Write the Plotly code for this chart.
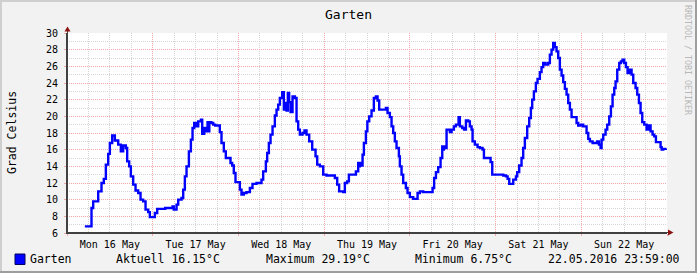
import pandas as pd
import plotly.graph_objects as go

# ---- data (hours after 2016-05-16 00:00, temperature in °C) ----
hours = [5.0, 6.86, 7.33, 8.73, 9.66, 10.3, 10.88, 11.53, 12.0, 12.65, 13.4, 14.33, 15.08, 15.73, 16.48,
         16.85, 17.41, 17.88, 18.53, 19.19, 19.93, 20.59, 21.34, 21.99, 22.74, 23.2, 24.6, 25.26, 27.5,
         29.55, 29.9, 30.67, 31.14, 32.07, 32.54, 33.0, 33.47, 34.13, 34.69, 35.15, 35.62, 36.27, 36.74,
         37.49, 37.86, 38.42, 39.07, 39.35, 39.6, 39.85, 40.4, 40.94, 41.5,
         42.79, 43.26, 43.91, 44.47, 45.78, 46.25, 46.7, 47.18, 48.4, 48.86, 49.5, 50.26, 51.2, 51.94,
         53.06, 54.46, 54.93, 55.68, 56.05, 56.52, 56.99, 57.55, 58.2, 58.67, 59.13, 59.6, 60.25, 60.72,
         61.0, 61.47, 61.84, 62.2, 62.59, 63.15, 63.8, 64.27, 64.73, 65.2, 65.95, 66.5, 67.07, 67.82,
         68.66, 69.59, 70.06, 70.8, 71.74, 72.67, 75.0, 75.66, 76.2, 77.34, 77.8, 78.46, 78.93, 80.89,
         81.54, 81.8, 82.0, 82.2, 82.76, 83.13, 83.69, 84.1, 84.62, 85.27, 85.92, 86.5, 86.95, 87.42,
         89.3, 89.75, 90.4, 90.87, 91.34, 91.8, 92.27, 92.93, 93.2, 93.67, 94.14, 94.89, 95.35, 96.0,
         96.94, 98.16, 98.81, 99.74, 102.36, 102.8, 103.3, 103.94, 104.6, 105.07, 105.3, 105.5, 105.8,
         106.28, 107.2, 107.68, 108.33, 108.89, 109.64, 110.0, 110.67, 111.2, 111.7, 112.35, 112.8,
         113.28, 113.56, 114.2, 114.96, 115.6, 116.36, 116.74, 118.6, 119.07, 122.15, 122.9, 123.37,
         123.83, 124.95, 125.7, 126.07, 126.62, 127.27, 127.74, 128.2, 128.86, 129.42, 129.89, 130.26,
         130.73, 131.28, 131.75, 132.4, 132.87, 133.34, 134.0, 134.74, 135.2, 135.67, 136.14, 136.6,
         137.07, 137.54, 138.0, 138.48, 138.94, 139.41, 139.88, 140.34, 140.81, 141.28, 142.68, 143.14,
         143.89, 144.54, 145.48, 145.95, 146.41, 147.16, 148.47, 148.93, 149.4, 149.68, 150.15, 150.8,
         151.27, 151.83, 152.3, 152.76, 153.23, 153.6, 154.07, 154.63, 155.1, 155.56, 156.03, 156.5,
         156.96, 157.3, 157.6, 157.9, 158.08, 158.55, 159.2, 159.67, 160.14, 160.6, 161.07, 161.63,
         162.28, 162.5, 162.75, 163.0, 163.4, 163.96, 164.43, 164.9, 166.2, 166.5, 166.95, 167.8]
temps = [6.8, 9.0, 9.8, 11.0, 12.0, 12.5, 14.2, 15.5, 16.8, 17.7, 17.1, 16.6, 15.8, 16.5, 16.2,
         14.6, 14.0, 12.8, 11.8, 11.1, 10.8, 10.0, 9.8, 8.8, 8.5, 7.9, 8.4, 8.9, 9.0,
         9.2, 8.8, 9.4, 10.0, 10.2, 11.2, 12.8, 14.0, 15.8, 17.2, 18.6, 19.2, 18.8, 19.4,
         19.6, 17.9, 18.6, 18.2, 19.3, 18.2, 19.3, 19.2, 19.0, 18.9,
         18.1, 16.8, 15.8, 15.0, 14.4, 14.1, 13.2, 12.1, 11.2, 10.6, 10.8, 10.9, 11.4, 11.9,
         12.0, 12.4, 13.4, 14.6, 15.6, 16.8, 17.8, 18.8, 20.1, 20.8, 21.4, 22.2, 22.9, 20.8,
         21.6, 20.7, 22.8, 21.7, 20.5, 22.4, 22.2, 19.4, 18.4, 17.8, 18.0, 18.3, 17.8, 17.0,
         16.0, 15.2, 14.2, 14.0, 13.0, 12.9, 12.6, 11.8, 11.0, 10.9, 12.0, 12.2, 13.0, 13.4,
         14.4, 14.0, 14.4, 14.1, 15.4, 16.8, 18.2, 19.4, 20.0, 20.7, 22.2, 22.4, 21.9, 20.8,
         21.0, 20.4, 19.9, 18.8, 18.0, 17.0, 16.2, 15.2, 14.0, 13.0, 12.0, 11.4, 10.8, 10.3,
         10.1, 10.8, 11.0, 10.9, 11.4, 12.6, 13.3, 13.9, 15.0, 16.4, 16.0, 16.4, 16.2,
         18.4, 18.1, 18.4, 18.8, 19.0, 19.9, 18.8, 18.6, 18.4, 19.5, 19.4, 18.8,
         18.4, 17.0, 16.6, 16.3, 16.2, 16.0, 15.0, 14.5, 13.0, 12.9, 12.8, 12.5,
         11.9, 12.4, 12.8, 13.3, 14.1, 15.0, 16.2, 17.4, 18.8, 19.8, 21.0, 22.0,
         23.0, 24.0, 24.5, 25.3, 25.9, 26.4, 26.2, 26.4, 27.4, 28.0, 28.8, 28.3,
         27.8, 27.0, 25.6, 24.9, 24.1, 23.3, 22.6, 21.6, 20.8, 19.9, 19.2, 18.9,
         19.0, 18.8, 18.0, 17.3, 17.0, 16.8, 17.0, 16.6, 16.2, 17.2, 17.8, 18.4,
         19.0, 20.0, 21.2, 22.6, 23.4, 24.2, 25.6, 26.4, 26.6, 26.8, 26.4, 25.9,
         25.2, 25.6, 25.2, 25.6, 25.0, 24.0, 23.4, 22.6, 21.6, 20.4, 19.3, 19.0,
         18.4, 18.9, 18.4, 18.9, 18.2, 17.8, 17.6, 16.9, 16.3, 16.0, 16.1, 16.15]

start = pd.Timestamp("2016-05-16 00:00")
end = pd.Timestamp("2016-05-23 00:00")
title = "Garten"
y_title = "Grad Celsius"
series_name = "Garten"
legend_items = ["Aktuell 16.15°C", "Maximum 29.19°C", "Minimum 6.75°C", "22.05.2016 23:59:00"]
watermark = "RRDTOOL / TOBI OETIKER"

times = [start + pd.Timedelta(hours=h) for h in hours]

W, H = 697, 273
L, R, T, B = 67, 667, 33, 233
MONO = "DejaVu Sans Mono"


def px(x):
    return (x - L) / (R - L)


def py(y):
    return (B - y) / (B - T)


fig = go.Figure()
fig.add_trace(go.Scatter(x=times, y=temps, mode="lines", line=dict(color="#0000FF", width=2.4, shape="hv"),
                         name=series_name, showlegend=False, hoverinfo="skip"))

MGRID = "#F0A8A8"
GRID = "#D6D6D6"
AXIS = "#404040"
ARROW = "#8B1010"

fig.update_layout(
    width=W, height=H,
    margin=dict(l=L, r=W - R, t=T, b=H - B),
    paper_bgcolor="#F2F2F2", plot_bgcolor="#FFFFFF",
    font=dict(family=MONO, color="#000000"),
    title=dict(text=title, x=0.5, xanchor="center", y=1 - 14 / H, yanchor="middle",
               font=dict(family=MONO, size=13, color="#000000")),
    showlegend=False,
)

fig.update_xaxes(
    type="date", range=[start, end], tick0=start, dtick=86400000,
    tickformat="%a %d %b", ticklabelmode="period",
    showgrid=True, gridcolor=MGRID, griddash="1px,1px", gridwidth=1,
    ticks="outside", ticklen=2, tickcolor=MGRID,
    showline=True, linecolor=AXIS, linewidth=1,
    tickfont=dict(family=MONO, size=10, color="#000000"),
    minor=dict(dtick=6 * 3600000, tick0=start, showgrid=True, gridcolor=GRID, griddash="1px,1px", gridwidth=1),
    zeroline=False, fixedrange=True,
)
fig.update_yaxes(
    range=[6, 30], tick0=6, dtick=2,
    showgrid=True, gridcolor=MGRID, griddash="1px,1px", gridwidth=1,
    ticks="outside", ticklen=2, tickcolor=MGRID,
    showline=True, linecolor=AXIS, linewidth=1,
    tickfont=dict(family=MONO, size=10, color="#000000"),
    ticklabelstandoff=4,
    minor=dict(dtick=1, tick0=6, showgrid=True, gridcolor=GRID, griddash="1px,1px", gridwidth=1),
    zeroline=False, fixedrange=True,
)

shapes = []
# frame shading
shapes.append(dict(type="rect", xref="paper", yref="paper", x0=px(0), x1=px(W), y0=py(0), y1=py(2),
                   fillcolor="#CFCFCF", line=dict(width=0), layer="above"))
shapes.append(dict(type="rect", xref="paper", yref="paper", x0=px(0), x1=px(2), y0=py(0), y1=py(H),
                   fillcolor="#CFCFCF", line=dict(width=0), layer="above"))
shapes.append(dict(type="rect", xref="paper", yref="paper", x0=px(0), x1=px(W), y0=py(H - 2), y1=py(H),
                   fillcolor="#9E9E9E", line=dict(width=0), layer="above"))
shapes.append(dict(type="rect", xref="paper", yref="paper", x0=px(W - 2), x1=px(W), y0=py(0), y1=py(H),
                   fillcolor="#9E9E9E", line=dict(width=0), layer="above"))
# axis extensions and arrows
shapes.append(dict(type="line", xref="paper", yref="paper", x0=px(L + 0.5), x1=px(L + 0.5), y0=py(B), y1=py(29),
                   line=dict(color=AXIS, width=1)))
shapes.append(dict(type="line", xref="paper", yref="paper", x0=px(L), x1=px(670), y0=py(B - 0.5), y1=py(B - 0.5),
                   line=dict(color=AXIS, width=1)))
shapes.append(dict(type="path", xref="paper", yref="paper",
                   path=f"M {px(L - 2.5)},{py(31.5)} L {px(L + 3.5)},{py(31.5)} L {px(L + 0.5)},{py(26.5)} Z",
                   fillcolor=ARROW, line=dict(width=0)))
shapes.append(dict(type="path", xref="paper", yref="paper",
                   path=f"M {px(668)},{py(B - 3.5)} L {px(668)},{py(B + 2.5)} L {px(673.5)},{py(B - 0.5)} Z",
                   fillcolor=ARROW, line=dict(width=0)))
# legend colour box
shapes.append(dict(type="rect", xref="paper", yref="paper", x0=px(15), x1=px(25), y0=py(264.5), y1=py(254),
                   fillcolor="#0000FF", line=dict(color="#000060", width=1)))
fig.update_layout(shapes=shapes)

ann = []
ann.append(dict(text=y_title, xref="paper", yref="paper", x=px(12), y=py(133), textangle=-90,
                showarrow=False, xanchor="center", yanchor="middle",
                font=dict(family=MONO, size=11.5, color="#000000")))
ann.append(dict(text=watermark, xref="paper", yref="paper", x=px(688), y=py(60), textangle=90,
                showarrow=False, xanchor="center", yanchor="middle",
                font=dict(family=MONO, size=8.3, color="#B8B8B8")))
legend_y = py(259)
ann.append(dict(text=series_name, xref="paper", yref="paper", x=px(28), y=legend_y, showarrow=False,
                xanchor="left", yanchor="middle", font=dict(family=MONO, size=11.5, color="#000000")))
legend_x = [114, 263.5, 413, 546]
for txt, lx in zip(legend_items, legend_x):
    ann.append(dict(text=txt, xref="paper", yref="paper", x=px(lx), y=legend_y, showarrow=False,
                    xanchor="left", yanchor="middle", font=dict(family=MONO, size=11.5, color="#000000")))
fig.update_layout(annotations=ann)

fig.write_html("out.html")
